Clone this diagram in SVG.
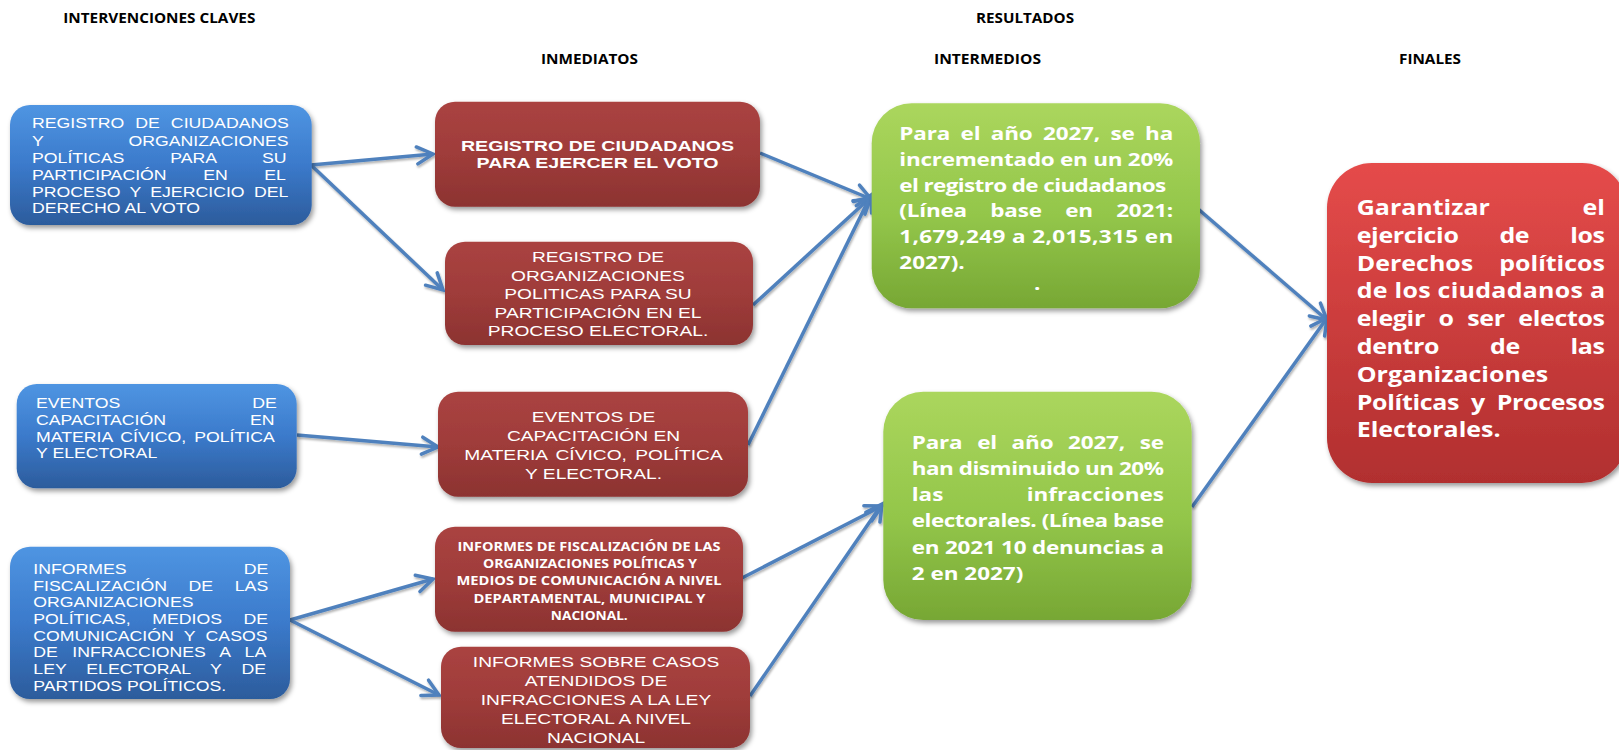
<svg xmlns="http://www.w3.org/2000/svg" width="1619" height="750" viewBox="0 0 1619 750">
<defs>
<linearGradient id="gBlue" x1="0" y1="0" x2="0" y2="1"><stop offset="0" stop-color="#4F95E2"/><stop offset="0.5" stop-color="#3B7ACB"/><stop offset="1" stop-color="#2C5C9C"/></linearGradient>
<linearGradient id="gRed" x1="0" y1="0" x2="0" y2="1"><stop offset="0" stop-color="#AA4341"/><stop offset="0.5" stop-color="#9F3C3A"/><stop offset="1" stop-color="#8C3331"/></linearGradient>
<linearGradient id="gGreen" x1="0" y1="0" x2="0" y2="1"><stop offset="0" stop-color="#ABD65D"/><stop offset="0.55" stop-color="#93C64A"/><stop offset="1" stop-color="#77A734"/></linearGradient>
<linearGradient id="gFinal" x1="0" y1="0" x2="0" y2="1"><stop offset="0" stop-color="#E54B4A"/><stop offset="1" stop-color="#B12F2F"/></linearGradient>
<filter id="sh" x="-10%" y="-10%" width="125%" height="130%"><feDropShadow dx="2" dy="3" stdDeviation="2.5" flood-color="#000" flood-opacity="0.4"/></filter>
<filter id="lsh" x="-5%" y="-5%" width="110%" height="110%"><feDropShadow dx="1" dy="2" stdDeviation="1.2" flood-color="#000" flood-opacity="0.3"/></filter>
<marker id="ah" viewBox="-20 -12 24 24" markerWidth="24" markerHeight="24" refX="0" refY="0" orient="auto" markerUnits="userSpaceOnUse">
<path d="M-16,-8.5 L0,0 L-16,8.5" fill="none" stroke="#4F81BD" stroke-width="3.5" stroke-linecap="round"/>
</marker>
</defs>
<style>
.hd{font-family:"Open Sans",sans-serif;font-weight:700;font-size:13.5px;fill:#000}
.bt{font-family:"Liberation Sans",Arial,sans-serif;font-size:17.7px;fill:#fff}
.rt{font-family:"Liberation Sans",Arial,sans-serif;font-size:19.2px;fill:#fff;text-anchor:middle}
.rb{font-family:"Liberation Sans",Arial,sans-serif;font-size:19.6px;font-weight:700;fill:#fff;text-anchor:middle}
.r4{font-family:"Open Sans",sans-serif;font-size:11.6px;font-weight:700;fill:#fff;text-anchor:middle}
.gt{font-family:"Open Sans",sans-serif;font-size:22.5px;font-weight:700;fill:#fff}
.ft{font-family:"Open Sans",sans-serif;font-size:25px;font-weight:700;fill:#fff}
.e{text-anchor:end}
.cn line{stroke:#4F81BD;stroke-width:3.5;marker-end:url(#ah)}
</style>
<rect width="1619" height="750" fill="#fff"/>

<g id="headers">
<text class="hd" x="63.3" y="23.3" textLength="192" lengthAdjust="spacingAndGlyphs">INTERVENCIONES CLAVES</text>
<text class="hd" x="976" y="23.3" textLength="98" lengthAdjust="spacingAndGlyphs">RESULTADOS</text>
<text class="hd" x="541" y="64" textLength="97" lengthAdjust="spacingAndGlyphs">INMEDIATOS</text>
<text class="hd" x="934" y="64" textLength="107" lengthAdjust="spacingAndGlyphs">INTERMEDIOS</text>
<text class="hd" x="1399" y="64" textLength="62" lengthAdjust="spacingAndGlyphs">FINALES</text>
</g>

<g id="connectors" class="cn" filter="url(#lsh)">
<line x1="311" y1="165" x2="433" y2="154"/>
<line x1="311" y1="165" x2="443" y2="290"/>
<line x1="297" y1="435" x2="438" y2="447"/>
<line x1="290" y1="620" x2="433" y2="579"/>
<line x1="290" y1="620" x2="439" y2="695"/>
<line x1="760" y1="153" x2="871" y2="199"/>
<line x1="753" y1="305" x2="871" y2="197"/>
<line x1="748" y1="445" x2="871" y2="195"/>
<line x1="742" y1="578" x2="882" y2="506"/>
<line x1="750" y1="696" x2="882" y2="504"/>
<line x1="1197" y1="208" x2="1327" y2="320"/>
<line x1="1192" y1="507" x2="1327" y2="318"/>
</g>

<g id="blue1">
<rect x="10" y="105" width="301.7" height="120" rx="20" fill="url(#gBlue)" filter="url(#sh)"/>
<text class="bt" transform="matrix(1 0 0 0.79 32 128.3)" word-spacing="6.05">REGISTRO DE CIUDADANOS</text>
<text class="bt" transform="matrix(1 0 0 0.79 32 145.5)" word-spacing="80">Y ORGANIZACIONES</text>
<text class="bt" transform="matrix(1 0 0 0.79 32 162.6)" word-spacing="40.95">POLÍTICAS PARA SU</text>
<text class="bt" transform="matrix(1 0 0 0.79 32 179.7)" word-spacing="31.6">PARTICIPACIÓN EN EL</text>
<text class="bt" transform="matrix(1 0 0 0.79 32 196.7)" word-spacing="4.4">PROCESO Y EJERCICIO DEL</text>
<text class="bt" transform="matrix(1 0 0 0.79 32 213.4)">DERECHO AL VOTO</text>
</g>

<g id="blue2">
<rect x="16.7" y="384" width="280" height="104.3" rx="20" fill="url(#gBlue)" filter="url(#sh)"/>
<text class="bt" transform="matrix(1 0 0 0.79 36 408.3)" word-spacing="127.2">EVENTOS DE</text>
<text class="bt" transform="matrix(1 0 0 0.79 36 425)" word-spacing="79">CAPACITACIÓN EN</text>
<text class="bt" transform="matrix(1 0 0 0.79 36 441.7)" word-spacing="3.1">MATERIA CÍVICO, POLÍTICA</text>
<text class="bt" transform="matrix(1 0 0 0.79 36 458.3)">Y ELECTORAL</text>
</g>

<g id="blue3">
<rect x="10" y="546.7" width="280" height="152.3" rx="20" fill="url(#gBlue)" filter="url(#sh)"/>
<text class="bt" transform="matrix(1 0 0 0.79 33.3 574)" word-spacing="112.1">INFORMES DE</text>
<text class="bt" transform="matrix(1 0 0 0.79 33.3 590.7)" word-spacing="16.7">FISCALIZACIÓN DE LAS</text>
<text class="bt" transform="matrix(1 0 0 0.79 33.3 607.3)">ORGANIZACIONES</text>
<text class="bt" transform="matrix(1 0 0 0.79 33.3 624)" word-spacing="16.7">POLÍTICAS, MEDIOS DE</text>
<text class="bt" transform="matrix(1 0 0 0.79 33.3 640.7)" word-spacing="5.4">COMUNICACIÓN Y CASOS</text>
<text class="bt" transform="matrix(1 0 0 0.79 33.3 657.3)" word-spacing="9.5">DE INFRACCIONES A LA</text>
<text class="bt" transform="matrix(1 0 0 0.79 33.3 674)" word-spacing="15">LEY ELECTORAL Y DE</text>
<text class="bt" transform="matrix(1 0 0 0.79 33.3 690.7)">PARTIDOS POLÍTICOS.</text>
</g>

<g id="red1">
<rect x="435" y="101.7" width="325" height="105" rx="20" fill="url(#gRed)" filter="url(#sh)"/>
<text class="rb" transform="matrix(1 0 0 0.78 597.5 151)">REGISTRO DE CIUDADANOS</text>
<text class="rb" transform="matrix(1 0 0 0.78 597.5 168.3)">PARA EJERCER EL VOTO</text>
</g>

<g id="red2">
<rect x="445" y="241.7" width="308" height="103.3" rx="20" fill="url(#gRed)" filter="url(#sh)"/>
<text class="rt" transform="matrix(1 0 0 0.81 598 262)">REGISTRO DE</text>
<text class="rt" transform="matrix(1 0 0 0.81 598 280.5)">ORGANIZACIONES</text>
<text class="rt" transform="matrix(1 0 0 0.81 598 299)">POLITICAS PARA SU</text>
<text class="rt" transform="matrix(1 0 0 0.81 598 317.5)">PARTICIPACIÓN EN EL</text>
<text class="rt" transform="matrix(1 0 0 0.81 598 336)">PROCESO ELECTORAL.</text>
</g>

<g id="red3">
<rect x="438" y="391.7" width="310" height="105" rx="20" fill="url(#gRed)" filter="url(#sh)"/>
<text class="rt" transform="matrix(1 0 0 0.81 593.5 422)">EVENTOS DE</text>
<text class="rt" transform="matrix(1 0 0 0.81 593.5 441)">CAPACITACIÓN EN</text>
<text class="rt" transform="matrix(1 0 0 0.81 593.5 460)" word-spacing="3">MATERIA CÍVICO, POLÍTICA</text>
<text class="rt" transform="matrix(1 0 0 0.81 593.5 479)">Y ELECTORAL.</text>
</g>

<g id="red4">
<rect x="435" y="526.7" width="308" height="105" rx="20" fill="url(#gRed)" filter="url(#sh)"/>
<text class="r4" x="589" y="551" textLength="263" lengthAdjust="spacingAndGlyphs">INFORMES DE FISCALIZACIÓN DE LAS</text>
<text class="r4" x="590" y="568" textLength="214" lengthAdjust="spacingAndGlyphs">ORGANIZACIONES POLÍTICAS Y</text>
<text class="r4" x="589" y="585" textLength="265" lengthAdjust="spacingAndGlyphs">MEDIOS DE COMUNICACIÓN  A NIVEL</text>
<text class="r4" x="589.5" y="602.5" textLength="232" lengthAdjust="spacingAndGlyphs">DEPARTAMENTAL, MUNICIPAL Y</text>
<text class="r4" x="589.3" y="619.5" textLength="77" lengthAdjust="spacingAndGlyphs">NACIONAL.</text>
</g>

<g id="red5">
<rect x="441" y="646.7" width="309" height="101.3" rx="20" fill="url(#gRed)" filter="url(#sh)"/>
<text class="rt" transform="matrix(1 0 0 0.81 596 667)">INFORMES SOBRE CASOS</text>
<text class="rt" transform="matrix(1 0 0 0.81 596 686)">ATENDIDOS DE</text>
<text class="rt" transform="matrix(1 0 0 0.81 596 705)">INFRACCIONES A LA LEY</text>
<text class="rt" transform="matrix(1 0 0 0.81 596 724)">ELECTORAL A NIVEL</text>
<text class="rt" transform="matrix(1 0 0 0.81 596 742.7)">NACIONAL</text>
</g>

<g id="green1">
<rect x="871.7" y="103.3" width="328.3" height="205" rx="40" fill="url(#gGreen)" filter="url(#sh)"/>
<text class="gt" transform="matrix(1 0 0 0.77 899.3 140)" word-spacing="4.8" textLength="274">Para el año 2027, se ha</text>
<text class="gt" transform="matrix(1 0 0 0.77 899.3 165.8)" textLength="274">incrementado en un 20%</text>
<text class="gt" transform="matrix(1 0 0 0.77 899.3 191.6)" textLength="267">el registro de ciudadanos</text>
<text class="gt" transform="matrix(1 0 0 0.77 899.3 217.3)" word-spacing="17.7" textLength="274">(Línea base en 2021:</text>
<text class="gt" transform="matrix(1 0 0 0.77 899.3 243)" textLength="274">1,679,249 a 2,015,315 en</text>
<text class="gt" transform="matrix(1 0 0 0.77 899.3 268.6)">2027).</text>
<text class="gt" transform="matrix(1 0 0 0.77 1034 290)">.</text>
</g>

<g id="green2">
<rect x="883.3" y="391.7" width="308.4" height="228.3" rx="40" fill="url(#gGreen)" filter="url(#sh)"/>
<text class="gt" transform="matrix(1 0 0 0.77 911.7 448.5)" word-spacing="9" textLength="252.3">Para el año 2027, se</text>
<text class="gt" transform="matrix(1 0 0 0.77 911.7 474.8)" textLength="252.3">han disminuido un 20%</text>
<text class="gt" transform="matrix(1 0 0 0.77 911.7 501)">las</text>
<text class="gt e" transform="matrix(1 0 0 0.77 1164 501)">infracciones</text>
<text class="gt" transform="matrix(1 0 0 0.77 911.7 527.3)" textLength="252.3">electorales. (Línea base</text>
<text class="gt" transform="matrix(1 0 0 0.77 911.7 553.6)" textLength="252.3">en 2021 10 denuncias a</text>
<text class="gt" transform="matrix(1 0 0 0.77 911.7 580)">2 en 2027)</text>
</g>

<g id="final">
<rect x="1327" y="163" width="300" height="320" rx="45" fill="url(#gFinal)" filter="url(#sh)"/>
<text class="ft" transform="matrix(1 0 0 0.83 1356.7 215)">Garantizar</text>
<text class="ft e" transform="matrix(1 0 0 0.83 1605 215)">el</text>
<text class="ft" transform="matrix(1 0 0 0.83 1356.7 242.8)" word-spacing="34.7" textLength="248.3">ejercicio de los</text>
<text class="ft" transform="matrix(1 0 0 0.83 1356.7 270.6)">Derechos</text>
<text class="ft e" transform="matrix(1 0 0 0.83 1605 270.6)">políticos</text>
<text class="ft" transform="matrix(1 0 0 0.83 1356.7 298.4)" textLength="248.3">de los ciudadanos a</text>
<text class="ft" transform="matrix(1 0 0 0.83 1356.7 326.2)" word-spacing="7.4" textLength="248.3">elegir o ser electos</text>
<text class="ft" transform="matrix(1 0 0 0.83 1356.7 354)" word-spacing="44.7" textLength="248.3">dentro de las</text>
<text class="ft" transform="matrix(1 0 0 0.83 1356.7 381.8)">Organizaciones</text>
<text class="ft" transform="matrix(1 0 0 0.83 1356.7 409.6)" word-spacing="5.6" textLength="248.3">Políticas y Procesos</text>
<text class="ft" transform="matrix(1 0 0 0.83 1356.7 437.4)">Electorales.</text>
</g>
</svg>
